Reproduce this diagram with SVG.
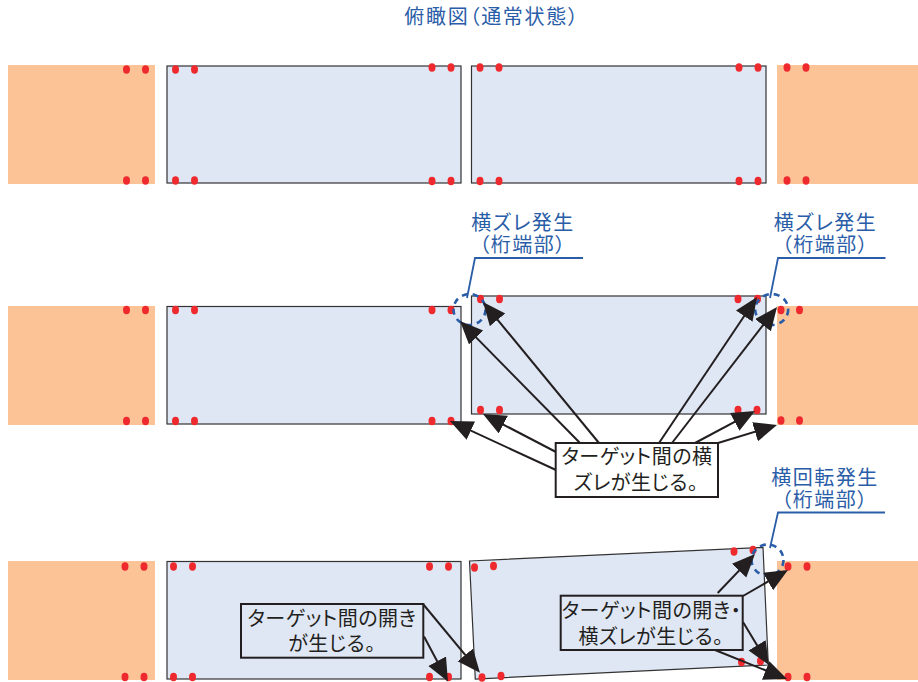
<svg xmlns="http://www.w3.org/2000/svg" width="918" height="682" viewBox="0 0 918 682">
<style>
text{font-family:"Noto Sans CJK JP","Noto Sans",sans-serif;font-size:20px;font-feature-settings:"palt";text-anchor:middle}
.b{fill:#2a5da8;letter-spacing:1.5px}
.k{fill:#231f20;letter-spacing:.5px}
.ab{fill:#fcc397}
.dk{fill:#e0e7f4;stroke:#333;stroke-width:1.2}
.d{fill:#ee2a2e}
.d ellipse{rx:3.5px;ry:4.2px}
.lead{fill:none;stroke:#2a5da8;stroke-width:1.8}
.dash{fill:none;stroke:#2a5da8;stroke-width:2.6;stroke-dasharray:6 5}
.ar{fill:none;stroke:#231f20;stroke-width:2;marker-end:url(#h)}
.box{stroke:#231f20;stroke-width:2}
</style>
<defs>
<marker id="h" markerUnits="userSpaceOnUse" markerWidth="25" markerHeight="22" refX="19" refY="10" orient="auto">
<path d="M0 0L23 10L0 20Z" fill="#231f20"/>
</marker>
</defs>
<rect width="918" height="682" fill="#fff"/>
<g id="title"><text class="b" x="492" y="24" style="letter-spacing:1.7px">俯瞰図（通常状態）</text></g>

<g id="row1">
<rect id="r1-abut-l" class="ab" x="8" y="65" width="147" height="119"/>
<rect id="r1-deck-a" class="dk" x="167" y="66" width="294" height="117"/>
<rect id="r1-deck-b" class="dk" x="471.5" y="66" width="294.5" height="117"/>
<rect id="r1-abut-r" class="ab" x="777" y="65" width="141" height="119"/>
<g class="d">
<ellipse cx="126.5" cy="69.5"/><ellipse cx="145.5" cy="69.5"/><ellipse cx="126.5" cy="180.5"/><ellipse cx="145.5" cy="180.5"/>
<ellipse cx="175.5" cy="69.5"/><ellipse cx="194.5" cy="69.5"/><ellipse cx="175.5" cy="180.5"/><ellipse cx="194.5" cy="180.5"/>
<ellipse cx="432" cy="67.5"/><ellipse cx="451" cy="67.5"/><ellipse cx="432" cy="181"/><ellipse cx="451" cy="181"/>
<ellipse cx="480" cy="67.5"/><ellipse cx="499" cy="67.5"/><ellipse cx="480" cy="181"/><ellipse cx="499" cy="181"/>
<ellipse cx="739" cy="67.5"/><ellipse cx="758" cy="67.5"/><ellipse cx="739" cy="181"/><ellipse cx="758" cy="181"/>
<ellipse cx="787" cy="67.5"/><ellipse cx="806" cy="67.5"/><ellipse cx="787" cy="180.5"/><ellipse cx="806" cy="180.5"/>
</g>
</g>

<g id="row2">
<rect id="r2-abut-l" class="ab" x="8" y="306" width="147" height="119"/>
<rect id="r2-deck-a" class="dk" x="167" y="306.5" width="294" height="117.5"/>
<rect id="r2-deck-b" class="dk" x="471.5" y="296" width="294.5" height="118"/>
<rect id="r2-abut-r" class="ab" x="777" y="306" width="141" height="119"/>
<g class="d">
<ellipse cx="126.5" cy="310"/><ellipse cx="145.5" cy="310"/><ellipse cx="126.5" cy="421"/><ellipse cx="145.5" cy="421"/>
<ellipse cx="175.5" cy="310"/><ellipse cx="194.5" cy="310"/><ellipse cx="175.5" cy="421"/><ellipse cx="194.5" cy="421"/>
<ellipse cx="432" cy="310"/><ellipse cx="451" cy="310"/><ellipse cx="432" cy="421"/><ellipse cx="451" cy="421"/>
<ellipse cx="480.5" cy="299"/><ellipse cx="499.5" cy="299"/><ellipse cx="480.5" cy="410"/><ellipse cx="499.5" cy="410"/>
<ellipse cx="738" cy="299"/><ellipse cx="757.5" cy="299"/><ellipse cx="738" cy="410"/><ellipse cx="757" cy="410"/>
<ellipse cx="781" cy="310"/><ellipse cx="799.5" cy="310"/><ellipse cx="781" cy="420.5"/><ellipse cx="799.5" cy="420.5"/>
</g>
</g>

<g id="row3">
<rect id="r3-abut-l" class="ab" x="8" y="561" width="147" height="119"/>
<rect id="r3-deck-a" class="dk" x="167" y="561.5" width="294" height="117.5"/>
<polygon id="r3-deck-b" class="dk" points="469.5,561 763,547.3 768.3,665 475.3,679"/>
<rect id="r3-abut-r" class="ab" x="777" y="561" width="141" height="119"/>
<g class="d">
<ellipse cx="125" cy="566.5"/><ellipse cx="144" cy="566.5"/><ellipse cx="125" cy="677"/><ellipse cx="144" cy="677"/>
<ellipse cx="173.5" cy="566.5"/><ellipse cx="192.5" cy="566.5"/><ellipse cx="173.5" cy="677"/><ellipse cx="192.5" cy="677"/>
<ellipse cx="429.5" cy="566.5"/><ellipse cx="448.5" cy="566.5"/><ellipse cx="429.5" cy="677"/><ellipse cx="448.5" cy="677"/>
<ellipse cx="474.5" cy="567.5"/><ellipse cx="493.5" cy="566"/><ellipse cx="482" cy="677.5"/><ellipse cx="501" cy="676"/>
<ellipse cx="734" cy="551.5"/><ellipse cx="753" cy="550"/><ellipse cx="741.5" cy="662"/><ellipse cx="760.5" cy="661"/>
<ellipse cx="788" cy="566.5"/><ellipse cx="807" cy="566.5"/><ellipse cx="788" cy="677"/><ellipse cx="807" cy="677"/>
</g>
</g>

<g id="callout-1">
<ellipse class="dash" cx="469.5" cy="309.5" rx="16" ry="15.5"/>
<text class="b" x="523" y="230">横ズレ発生</text>
<text class="b" x="523" y="252">（桁端部）</text>
</g>
<g id="callout-2">
<ellipse class="dash" cx="771.7" cy="309.5" rx="16.5" ry="15.5"/>
<text class="b" x="825.5" y="230">横ズレ発生</text>
<text class="b" x="825.5" y="252">（桁端部）</text>
</g>
<g id="callout-3">
<ellipse class="dash" cx="767.5" cy="560" rx="16" ry="15.5"/>
<text class="b" x="825" y="485">横回転発生</text>
<text class="b" x="825" y="507">（桁端部）</text>
</g>

<g id="connectors">
<path class="lead" d="M467 298L475 258H583"/>
<path class="lead" d="M770 298L778 258H885.5"/>
<path class="lead" d="M770 548L778 512.5H885"/>
<path class="ar" d="M599 443L485.5 305.1"/>
<path class="ar" d="M580 443L462.8 323.9"/>
<path class="ar" d="M556 452L486.5 415.8"/>
<path class="ar" d="M556 470L453.6 422.7"/>
<path class="ar" d="M659 443L754.8 300.3"/>
<path class="ar" d="M672 443L774.6 310.2"/>
<path class="ar" d="M695 443L751.5 412.9"/>
<path class="ar" d="M718 443L773.2 426.2"/>
<path class="ar" d="M424 636.5L446.1 678"/>
<path class="ar" d="M423 604L477.4 669.6"/>
<path class="ar" d="M717.7 593L752.2 556.9"/>
<path class="ar" d="M743 596L784.5 572"/>
<path class="ar" d="M743 622L766.9 661.6"/>
<path class="ar" d="M715 650L783.3 677.5"/>
</g>

<g id="note-shift">
<rect class="box" x="555.7" y="443" width="162.3" height="54" fill="#fff"/>
<text class="k" x="637" y="464">ターゲット間の横</text>
<text class="k" x="636" y="490">ズレが生じる。</text>
</g>
<g id="note-gap">
<rect class="box" x="241" y="604" width="182.3" height="53.7" fill="#e0e7f4"/>
<text class="k" x="332" y="626">ターゲット間の開き</text>
<text class="k" x="332" y="651">が生じる。</text>
</g>
<g id="note-gap-shift">
<rect class="box" x="560.7" y="595.7" width="182" height="54.3" fill="#e0e7f4"/>
<text class="k" x="651.5" y="618">ターゲット間の開き・</text>
<text class="k" x="651" y="644">横ズレが生じる。</text>
</g>
</svg>
